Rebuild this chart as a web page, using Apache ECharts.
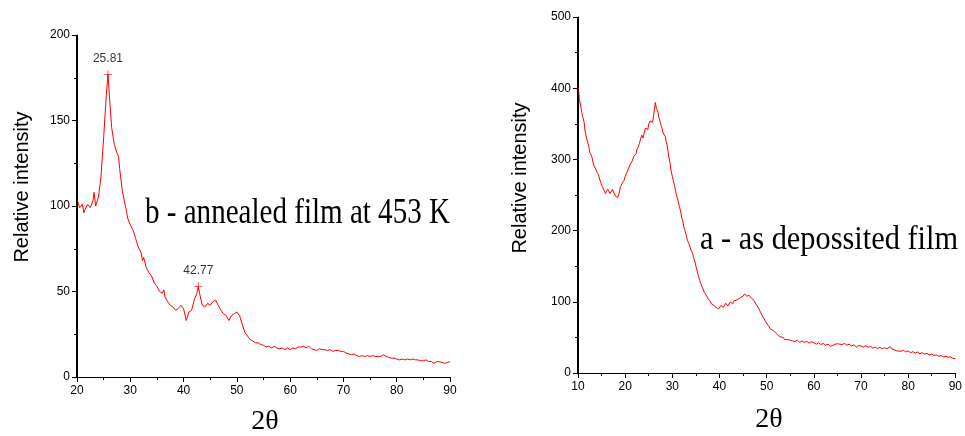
<!DOCTYPE html>
<html>
<head>
<meta charset="utf-8">
<script src="https://cdn.jsdelivr.net/npm/echarts@6/dist/echarts.min.js"></script>
<style>
  html, body { margin: 0; padding: 0; background: #fff; }
  #chart { width: 965px; height: 436px; }
</style>
</head>
<body>
<div id="chart"></div>
<script>
// XRD pattern of the film annealed at 453 K: [2θ (deg), intensity]
const annealedFilm = [
  [20,104],[20.5,99],[21,101],[21.3,96],[21.5,98],[22,101],[22.5,99],[23,103],[23.2,108],[23.5,100],
  [24,105],[24.3,112],[24.5,117],[25,140],[25.5,165],[25.81,177],[26,168],[26.5,146],[27,136],[27.5,131],
  [27.8,129],[28,122],[28.5,109],[29,101],[29.3,97],[29.5,93],[30,89],[30.5,86],[31,81],[31.5,76],
  [32,73],[32.3,68],[32.5,70],[33,64],[33.5,61],[34,59],[34.5,55],[35,53],[35.5,50],[36,49],
  [36.3,51],[36.5,47],[37,44],[37.5,42],[38,41],[38.5,39],[39,40],[39.5,42],[40,40],[40.5,33],
  [41,38],[41.5,39],[42,45],[42.5,49],[42.77,53],[43,49],[43.5,42],[44,41],[44.5,43],[45,42],
  [45.5,44],[46,45],[46.5,42],[47,39],[47.5,37],[48,36],[48.5,33],[49,36],[49.5,37],[50,38],
  [50.5,36],[51,31],[51.5,26],[52,24],[52.5,22],[53,21],[53.5,20],[54,20],[54.5,19],[55,18.5],
  [55.5,17.5],[56,18],[56.5,17],[57,18],[57.5,17],[58,16.5],[58.5,17],[59,16],[59.5,17],[60,16],
  [60.5,17],[61,16.5],[61.5,17.5],[62,17.5],[62.5,18],[63,17],[63.5,18],[64,16.5],[64.5,16],[65,15.5],
  [65.5,16.5],[66,16],[66.5,16],[67,15.5],[67.5,16],[68,15],[68.5,15.5],[69,15.5],[69.5,15],[70,15],
  [70.5,14],[71,13.5],[71.5,13],[72,13.5],[72.5,12.5],[73,12],[73.5,12.5],[74,12],[74.5,12.5],[75,12],
  [75.5,12.5],[76,12],[76.5,12],[77,12],[77.5,13],[78,12],[78.5,11.5],[79,11],[79.5,11],[80,10.5],
  [80.5,10],[81,10.5],[81.5,10],[82,10.5],[82.5,10],[83,10.5],[83.5,10],[84,10],[84.5,9.5],[85,9.5],
  [85.5,10],[86,9],[86.5,9],[87,8],[87.5,9],[88,9],[88.5,8.5],[89,8],[89.5,8.5],[90,9]
];

// Marked reflections of the annealed film: [2θ, intensity]
const annealedPeaks = [[25.81,177],[42.77,53]];

// XRD pattern of the as-deposited film: [2θ (deg), intensity]
const depositedFilm = [
  [10,404],[10.2,392],[10.3,383],[10.5,378],[10.8,366],[11,360],[11.3,352],[11.5,340],[11.8,330],[12,328],
  [12.3,318],[12.5,310],[12.8,306],[13,302],[13.3,292],[13.5,294],[13.8,286],[14,282],[14.3,279],[14.5,274],
  [14.8,268],[15,264],[15.3,260],[15.5,258],[15.8,252],[16,250],[16.3,258],[16.5,257],[16.8,252],[17,253],
  [17.3,258],[17.5,256],[17.8,250],[18,250],[18.4,246],[18.7,252],[19,262],[19.3,262],[19.5,268],[19.8,271],
  [20,276],[20.3,278],[20.5,284],[20.8,286],[21,292],[21.3,292],[21.5,298],[21.8,304],[22,306],[22.3,308],
  [22.5,314],[22.8,318],[23,322],[23.3,324],[23.5,334],[23.8,330],[24,336],[24.3,344],[24.5,346],[24.8,342],
  [25,350],[25.3,354],[25.5,356],[25.8,352],[26,360],[26.2,362],[26.4,380],[26.6,372],[26.9,368],[27.1,360],
  [27.3,356],[27.5,350],[27.8,344],[28,338],[28.2,340],[28.5,332],[28.7,325],[29,316],[29.2,305],[29.5,296],
  [29.7,285],[30,276],[30.2,270],[30.5,262],[30.8,252],[31,250],[31.2,242],[31.5,234],[31.8,226],[32,218],
  [32.2,214],[32.4,206],[32.7,200],[33,192],[33.2,186],[33.5,182],[33.8,176],[34,172],[34.3,168],[34.5,162],
  [34.8,156],[35,150],[35.3,142],[35.5,137],[35.8,130],[36,126],[36.3,121],[36.5,118],[36.8,113],[37,112],
  [37.3,108],[37.5,105],[37.8,103],[38,101],[38.3,97],[38.5,98],[38.8,95],[39,96],[39.3,92],[39.5,93],
  [39.8,90],[40,91],[40.3,95],[40.5,94],[40.8,92],[41,94],[41.3,98],[41.5,97],[41.8,94],[42,96],
  [42.3,100],[42.5,99],[42.8,97],[43,101],[43.3,103],[43.5,102],[43.8,100],[44,104],[44.3,103],[44.5,106],
  [44.8,105],[45,108],[45.3,111],[45.5,110],[45.8,108],[46,110],[46.3,109],[46.5,108],[46.8,105],[47,104],
  [47.3,102],[47.5,100],[47.8,96],[48,94],[48.3,91],[48.5,88],[48.8,84],[49,82],[49.3,78],[49.5,76],
  [49.8,72],[50,71],[50.3,67],[50.5,66],[50.8,62],[51,63],[51.3,60],[51.5,61],[51.8,57],[52,57],
  [52.3,54],[52.5,55],[52.8,51],[53,52],[53.5,50],[53.8,47],[54,49],[54.5,47],[55,46],[55.5,45],
  [56,44],[56.5,46],[57,43],[57.5,45],[58,43],[58.5,44.5],[59,42],[59.5,44],[60,42.5],[60.5,40.5],
  [61,42.5],[61.5,40],[62,41.5],[62.5,39],[63,40.5],[63.5,37.5],[64,38.5],[64.5,40.5],[65,41],[65.4,43],
  [66,40],[66.5,41.5],[67,39],[67.5,40.5],[68,38],[68.5,39.5],[69,36.5],[69.5,38.5],[70,38],[70.5,36.5],
  [71,38.5],[71.5,36],[72,37.5],[72.5,35],[73,36.5],[73.5,34.5],[74,36],[74.5,34],[75,35.5],[75.5,34],
  [76.2,37],[76.6,33.5],[77,34],[77.6,31],[78,32.5],[78.5,30.5],[79,32],[79.5,29.5],[80,31],[80.5,28.5],
  [81,30],[81.5,28],[82,29.5],[82.5,27],[83,28.5],[83.5,26.5],[84,27.5],[84.5,25.5],[85,26.5],[85.5,24.5],
  [86,25.5],[86.5,23.5],[87,24.5],[87.5,23],[88,23.5],[88.5,22],[89,22.5],[89.5,20.5],[90,20]
];

// Axis ranges and tick steps
const xRangeB = [20, 90], yRangeB = [0, 200], yStepB = 50;
const xRangeA = [10, 90], yRangeA = [0, 500], yStepA = 100;
const xStep = 10;

// Plot rectangles (px)
const gridB = { left: 77, top: 35, width: 373, height: 342 };
const gridA = { left: 578, top: 17, width: 381, height: 356 };

const tickFont = "'Liberation Sans Narrow', 'Liberation Sans', Arial, sans-serif";
const red = '#ff0000';

function xAxisFor(gridIndex, range) {
  return {
    type: 'value', gridIndex, min: range[0], max: range[1], interval: xStep,
    position: 'bottom',
    axisLine: { show: true, onZero: false, lineStyle: { color: '#000', width: 1 } },
    axisTick: { inside: false, length: 5, lineStyle: { color: '#000' } },
    minorTick: { show: true, splitNumber: 2, length: 3, lineStyle: { color: '#000' } },
    axisLabel: { color: '#000', fontSize: 12, fontFamily: tickFont, margin: 8 },
    splitLine: { show: false }
  };
}
function yAxisFor(gridIndex, range, step) {
  return {
    type: 'value', gridIndex, min: range[0], max: range[1], interval: step,
    position: 'left',
    axisLine: { show: true, onZero: false, lineStyle: { color: '#000', width: 1 } },
    axisTick: { show: true, inside: false, length: 5, lineStyle: { color: '#000' } },
    minorTick: { show: true, splitNumber: 2, length: 3, lineStyle: { color: '#000' } },
    axisLabel: { color: '#000', fontSize: 12, fontFamily: tickFont, margin: 7 },
    splitLine: { show: false }
  };
}

// Solid bar along the left edge of a plot rectangle
function edgeBar(g) {
  return {
    type: 'rect', z: 1000, silent: true,
    shape: { x: g.left - 1, y: g.top, width: 1.5, height: g.height + 0.5 },
    style: { fill: '#000' }
  };
}

const chart = echarts.init(document.getElementById('chart'), null, { renderer: 'canvas' });

const titleFont = "'Liberation Serif', 'Times New Roman', serif";
const sansFont = "'Liberation Sans', Arial, sans-serif";

chart.setOption({
  backgroundColor: '#fff',
  animation: false,
  grid: [gridB, gridA],
  xAxis: [xAxisFor(0, xRangeB), xAxisFor(1, xRangeA)],
  yAxis: [yAxisFor(0, yRangeB, yStepB), yAxisFor(1, yRangeA, yStepA)],
  series: [
    {
      type: 'line', xAxisIndex: 0, yAxisIndex: 0, data: annealedFilm,
      showSymbol: false, symbol: 'none',
      lineStyle: { color: red, width: 1 }
    },
    {
      type: 'scatter', xAxisIndex: 0, yAxisIndex: 0, data: annealedPeaks,
      symbol: 'path://M0,4.5H10V5.5H0Z M4.5,0H5.5V10H4.5Z', symbolSize: 8,
      itemStyle: { color: red },
      label: {
        show: true, position: 'top', distance: 6,
        color: '#000', fontSize: 12, fontFamily: tickFont,
        formatter: p => p.value[0].toFixed(2)
      }
    },
    {
      type: 'line', xAxisIndex: 1, yAxisIndex: 1, data: depositedFilm,
      showSymbol: false, symbol: 'none',
      lineStyle: { color: red, width: 1 }
    }
  ],
  graphic: [
    edgeBar(gridB),
    edgeBar(gridA),
    { type: 'text', x: 22, y: 187, rotation: Math.PI / 2,
      style: { text: 'Relative intensity', font: "20px " + sansFont, fill: '#000', align: 'center', verticalAlign: 'middle' } },
    { type: 'text', x: 520, y: 178, rotation: Math.PI / 2,
      style: { text: 'Relative intensity', font: "20px " + sansFont, fill: '#000', align: 'center', verticalAlign: 'middle' } },
    { type: 'text', x: 265, y: 422,
      style: { text: '2θ', font: "28px " + titleFont, fill: '#000', align: 'center', verticalAlign: 'middle' } },
    { type: 'text', x: 769, y: 420,
      style: { text: '2θ', font: "28px " + titleFont, fill: '#000', align: 'center', verticalAlign: 'middle' } },
    { type: 'text', x: 145, y: 214, scaleX: 0.83,
      style: { text: 'b - annealed film at 453 K', font: "35px " + titleFont, fill: '#000', align: 'left', verticalAlign: 'middle' } },
    { type: 'text', x: 700, y: 240, scaleX: 0.92,
      style: { text: 'a - as depossited film', font: "33px " + titleFont, fill: '#000', align: 'left', verticalAlign: 'middle' } }
  ]
});
</script>
</body>
</html>
